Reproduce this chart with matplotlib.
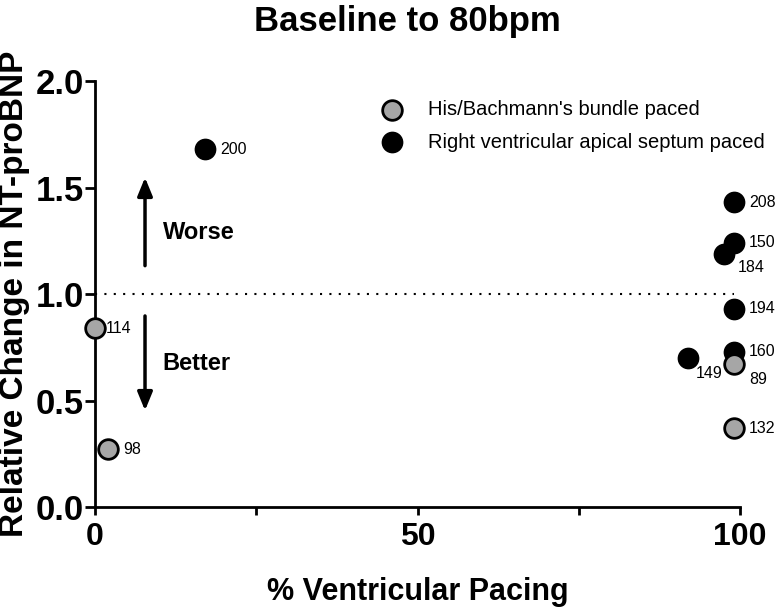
import matplotlib
matplotlib.use('Agg')
import matplotlib.pyplot as plt

# His/Bachmann's bundle paced patients
his_ids = ['114', '98', '89', '132']
his_pacing = [0, 2, 99, 99]
his_change = [0.84, 0.27, 0.67, 0.37]

# Right ventricular apical septum paced patients
rv_ids = ['200', '208', '150', '184', '194', '160', '149']
rv_pacing = [17, 99, 99, 97.5, 99, 99, 92]
rv_change = [1.68, 1.43, 1.24, 1.19, 0.93, 0.73, 0.70]

plt.rcParams['font.family'] = ['Liberation Sans', 'DejaVu Sans']

fig = plt.figure(figsize=(7.77, 6.11), dpi=100)
ax = fig.add_axes([0.1223, 0.1702, 0.8301, 0.6972])

ax.plot([0, 99], [1, 1], color='black', lw=1.5, linestyle=(0, (1, 3.5)), zorder=1)

ax.scatter(rv_pacing, rv_change, s=200, color='black', edgecolors='black',
           linewidths=1.5, zorder=3, clip_on=False,
           label='Right ventricular apical septum paced')
ax.scatter(his_pacing, his_change, s=200, color='#a6a6a6', edgecolors='black',
           linewidths=2, zorder=4, clip_on=False,
           label="His/Bachmann's bundle paced")

# label offsets (points) for each patient id
offsets = {'184': (10, -10), '149': (5, -11), '89': (11, -11), '114': (8, 0)}
for ids, xs, ys in [(rv_ids, rv_pacing, rv_change), (his_ids, his_pacing, his_change)]:
    for lab, x, y in zip(ids, xs, ys):
        dx, dy = offsets.get(lab, (11, 0))
        ax.annotate(lab, (x, y), xytext=(dx, dy), textcoords='offset points',
                    ha='left', va='center', fontsize=11.5,
                    zorder=5, annotation_clip=False)

# worse / better arrows
ax.annotate('', xy=(7.75, 1.56), xytext=(7.75, 1.12),
            arrowprops=dict(arrowstyle='-|>,head_length=1.1,head_width=0.45',
                            color='black', lw=2.5))
ax.annotate('', xy=(7.75, 0.44), xytext=(7.75, 0.91),
            arrowprops=dict(arrowstyle='-|>,head_length=1.1,head_width=0.45',
                            color='black', lw=2.5))
ax.text(10.5, 1.29, 'Worse', fontsize=17, fontweight='bold', va='center')
ax.text(10.5, 0.676, 'Better', fontsize=17, fontweight='bold', va='center')

ax.set_xlim(0, 100)
ax.set_ylim(0, 2.0)
ax.set_xticks([0, 50, 100])
ax.set_xticks([25, 75], minor=True)
ax.set_yticks([0, 0.5, 1.0, 1.5, 2.0])
ax.set_yticklabels(['0.0', '0.5', '1.0', '1.5', '2.0'])
ax.tick_params(axis='both', which='both', direction='out', width=2)
ax.tick_params(axis='x', which='major', length=6, pad=5, labelsize=23)
ax.tick_params(axis='x', which='minor', length=6)
ax.tick_params(axis='y', length=7, pad=1, labelsize=25)
for t in ax.get_xticklabels() + ax.get_yticklabels():
    t.set_fontweight('bold')

for side in ['top', 'right']:
    ax.spines[side].set_visible(False)
for side in ['left', 'bottom']:
    ax.spines[side].set_linewidth(2)

ax.set_xlabel('% Ventricular Pacing', fontsize=22, fontweight='bold', labelpad=18)
ax.set_ylabel('Relative Change in NT-proBNP', fontsize=24, fontweight='bold', labelpad=4)
fig.text(0.524, 0.965, 'Baseline to 80bpm', fontsize=25, fontweight='bold',
         ha='center', va='center')

handles, labels = ax.get_legend_handles_labels()
ax.legend(handles[::-1], labels[::-1], loc='upper left', frameon=False,
          bbox_to_anchor=(0.465, 0.853), bbox_transform=fig.transFigure,
          fontsize=14.5, labelspacing=0.69, handletextpad=0.8, markerscale=1,
          borderpad=0)

fig.savefig('out.png', dpi=100)
